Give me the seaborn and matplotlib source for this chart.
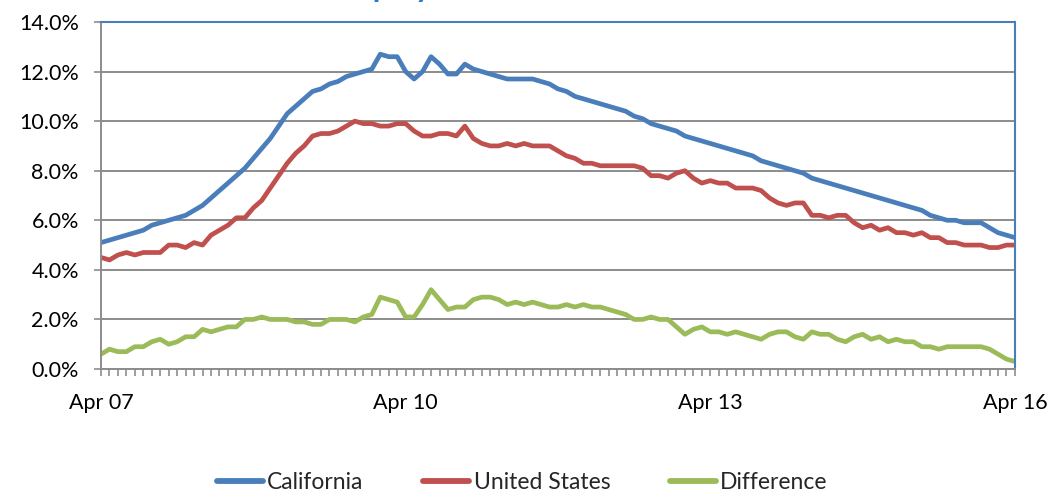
"""
California vs. United States unemployment rate, Apr 2007 - Apr 2016.
Monthly line chart drawn with seaborn.
"""

import pandas as pd
import matplotlib.pyplot as plt
import seaborn as sns
from matplotlib.ticker import FuncFormatter, MultipleLocator

# monthly values in percent, Apr 2007 .. Apr 2016
months = pd.date_range("2007-04-01", "2016-04-01", freq="MS")

california = [
    5.1, 5.2, 5.3, 5.4, 5.5, 5.6, 5.8, 5.9, 6.0, 6.1,
    6.2, 6.4, 6.6, 6.9, 7.2, 7.5, 7.8, 8.1, 8.5, 8.9,
    9.3, 9.8, 10.3, 10.6, 10.9, 11.2, 11.3, 11.5, 11.6, 11.8,
    11.9, 12.0, 12.1, 12.7, 12.6, 12.6, 12.0, 11.7, 12.0, 12.6,
    12.3, 11.9, 11.9, 12.3, 12.1, 12.0, 11.9, 11.8, 11.7, 11.7,
    11.7, 11.7, 11.6, 11.5, 11.3, 11.2, 11.0, 10.9, 10.8, 10.7,
    10.6, 10.5, 10.4, 10.2, 10.1, 9.9, 9.8, 9.7, 9.6, 9.4,
    9.3, 9.2, 9.1, 9.0, 8.9, 8.8, 8.7, 8.6, 8.4, 8.3,
    8.2, 8.1, 8.0, 7.9, 7.7, 7.6, 7.5, 7.4, 7.3, 7.2,
    7.1, 7.0, 6.9, 6.8, 6.7, 6.6, 6.5, 6.4, 6.2, 6.1,
    6.0, 6.0, 5.9, 5.9, 5.9, 5.7, 5.5, 5.4, 5.3,
]

united_states = [
    4.5, 4.4, 4.6, 4.7, 4.6, 4.7, 4.7, 4.7, 5.0, 5.0,
    4.9, 5.1, 5.0, 5.4, 5.6, 5.8, 6.1, 6.1, 6.5, 6.8,
    7.3, 7.8, 8.3, 8.7, 9.0, 9.4, 9.5, 9.5, 9.6, 9.8,
    10.0, 9.9, 9.9, 9.8, 9.8, 9.9, 9.9, 9.6, 9.4, 9.4,
    9.5, 9.5, 9.4, 9.8, 9.3, 9.1, 9.0, 9.0, 9.1, 9.0,
    9.1, 9.0, 9.0, 9.0, 8.8, 8.6, 8.5, 8.3, 8.3, 8.2,
    8.2, 8.2, 8.2, 8.2, 8.1, 7.8, 7.8, 7.7, 7.9, 8.0,
    7.7, 7.5, 7.6, 7.5, 7.5, 7.3, 7.3, 7.3, 7.2, 6.9,
    6.7, 6.6, 6.7, 6.7, 6.2, 6.2, 6.1, 6.2, 6.2, 5.9,
    5.7, 5.8, 5.6, 5.7, 5.5, 5.5, 5.4, 5.5, 5.3, 5.3,
    5.1, 5.1, 5.0, 5.0, 5.0, 4.9, 4.9, 5.0, 5.0,
]

difference = [
    0.6, 0.8, 0.7, 0.7, 0.9, 0.9, 1.1, 1.2, 1.0, 1.1,
    1.3, 1.3, 1.6, 1.5, 1.6, 1.7, 1.7, 2.0, 2.0, 2.1,
    2.0, 2.0, 2.0, 1.9, 1.9, 1.8, 1.8, 2.0, 2.0, 2.0,
    1.9, 2.1, 2.2, 2.9, 2.8, 2.7, 2.1, 2.1, 2.6, 3.2,
    2.8, 2.4, 2.5, 2.5, 2.8, 2.9, 2.9, 2.8, 2.6, 2.7,
    2.6, 2.7, 2.6, 2.5, 2.5, 2.6, 2.5, 2.6, 2.5, 2.5,
    2.4, 2.3, 2.2, 2.0, 2.0, 2.1, 2.0, 2.0, 1.7, 1.4,
    1.6, 1.7, 1.5, 1.5, 1.4, 1.5, 1.4, 1.3, 1.2, 1.4,
    1.5, 1.5, 1.3, 1.2, 1.5, 1.4, 1.4, 1.2, 1.1, 1.3,
    1.4, 1.2, 1.3, 1.1, 1.2, 1.1, 1.1, 0.9, 0.9, 0.8,
    0.9, 0.9, 0.9, 0.9, 0.9, 0.8, 0.6, 0.4, 0.3,
]

series_names = ["California", "United States", "Difference"]
series_colors = ["#4A7EBB", "#C0504D", "#9BBB59"]
tick_labels = ["Apr 07", "Apr 10", "Apr 13", "Apr 16"]
title_text = "Unemployment Rate"

# long-form table for seaborn, x is the month position
wide = pd.DataFrame({
    "pos": range(len(months)),
    "month": months,
    "California": california,
    "United States": united_states,
    "Difference": difference,
})
df = wide.melt(id_vars=["pos", "month"], value_vars=series_names,
               var_name="series", value_name="rate")

sns.set_style("white")
plt.rcParams["font.family"] = ["Lato", "DejaVu Sans"]

fig = plt.figure(figsize=(10.51, 4.93), dpi=100)
ax = fig.add_axes([0.0961, 0.2515, 0.8696, 0.7039])

sns.lineplot(data=df, x="pos", y="rate", hue="series", hue_order=series_names,
             palette=series_colors, linewidth=3.4, legend=False, ax=ax,
             solid_capstyle="round", solid_joinstyle="round")

# axes
ax.set_xlim(0, len(months) - 1)
ax.set_ylim(0, 14)
ax.yaxis.set_major_locator(MultipleLocator(2))
ax.yaxis.set_major_formatter(FuncFormatter(lambda v, _: f"{v:.1f}%"))

# labelled ticks every three years (Apr 07, Apr 10, ...)
major_pos = [i for i, m in enumerate(months) if m.month == 4 and (m.year - 2007) % 3 == 0]
ax.set_xticks(major_pos)
ax.set_xticklabels(tick_labels)
ax.xaxis.set_minor_locator(MultipleLocator(1))
ax.set_xlabel("")
ax.set_ylabel("")

ax.grid(axis="y", color="#8C8C8C", linewidth=1.4)
ax.set_axisbelow(True)

ax.tick_params(axis="both", which="both", direction="out", color="#8C8C8C",
               width=1.2, length=5, labelsize=15.5, labelcolor="black")
ax.tick_params(axis="x", which="major", pad=12)
ax.tick_params(axis="y", pad=11, left=True)
ax.tick_params(axis="x", which="both", bottom=True)

for side in ["left", "bottom"]:
    ax.spines[side].set_color("#8C8C8C")
    ax.spines[side].set_linewidth(1.4)
for side in ["top", "right"]:
    ax.spines[side].set_visible(True)
    ax.spines[side].set_color("#4A7EBB")
    ax.spines[side].set_linewidth(1.5)

# legend below the plot
handles = ax.get_lines()[:3]
leg = fig.legend(handles, series_names, loc="center", bbox_to_anchor=(0.497, 0.022),
                 ncol=3, frameon=False, fontsize=16.5, handlelength=2.0,
                 handletextpad=0.2, columnspacing=2.6)
for line in leg.get_lines():
    line.set_linewidth(4.2)

# title sits mostly above the canvas, as in the source image
fig.text(291 / 1051, 1.0 + 3 / 493, title_text, ha="left", va="baseline",
         fontsize=22, fontweight="bold", color="#1F7BD0")

fig.savefig("out.png", dpi=100)
